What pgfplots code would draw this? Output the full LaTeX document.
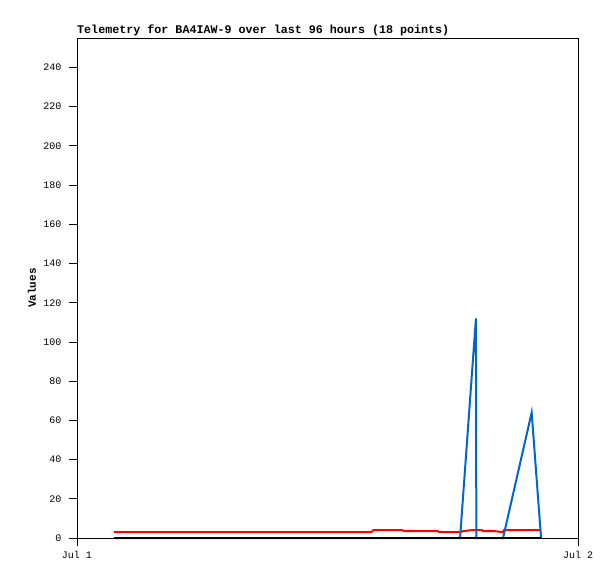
\documentclass[border=0pt]{standalone}
\usepackage{fontspec}
\setmainfont{Liberation Sans}
\newfontfamily\monofont{Liberation Mono}
\usepackage{pgfplots}
\pgfplotsset{compat=1.18}
\definecolor{tblue}{RGB}{0,102,204}
\begin{document}
\begin{tikzpicture}[x=1pt,y=1pt]
\path[use as bounding box, fill=white] (0,0) rectangle (615,579);
\begin{axis}[
  at={(77pt,41pt)}, anchor=south west,
  scale only axis, width=501pt, height=500pt,
  xmin=0, xmax=24, ymin=0, ymax=255,
  enlargelimits=false, clip=false,
  xtick={0,24}, xticklabels={Jul 1, Jul 2},
  ytick={0,20,...,240},
  xtick pos=bottom, ytick pos=left,
  tick align=outside, major tick length=8pt,
  axis line style={black, line width=0.8pt},
  every tick/.style={black, line width=0.8pt},
  tick label style={font=\monofont\fontsize{10}{12}\selectfont},
  /pgf/number format/assume math mode=true,
  yticklabel style={xshift=-4pt},
  xticklabel style={yshift=-2pt},
  every axis title shift=0pt,
  title={\monofont\bfseries\fontsize{11.7}{14}\selectfont Telemetry for BA4IAW-9 over last 96 hours (18 points)},
  title style={at={(0,1)}, anchor=base west, yshift=4pt, inner sep=0pt},
]
\addplot[red, line width=2pt] coordinates {
 (1.77,3) (14.1,3) (14.2,4) (15.6,4) (15.65,3.5) (17.3,3.5) (17.35,3)
 (18.35,3) (18.5,3.5) (18.9,4) (19.4,4) (19.45,3.5) (20.0,3.5) (20.4,3) (20.45,4) (22.23,4)};
\addplot[tblue, line width=2pt] coordinates {
 (1.77,0) (18.35,0) (19.11,112) (19.13,0) (20.41,0) (21.78,64) (22.23,0)};
\addplot[black, line width=1.8pt] coordinates {
 (1.77,0) (22.23,0)};
\node[rotate=90, font=\monofont\bfseries\fontsize{11}{13}\selectfont] at (axis description cs:-0.09,0.5) {Values};
\end{axis}
\end{tikzpicture}
\end{document}
